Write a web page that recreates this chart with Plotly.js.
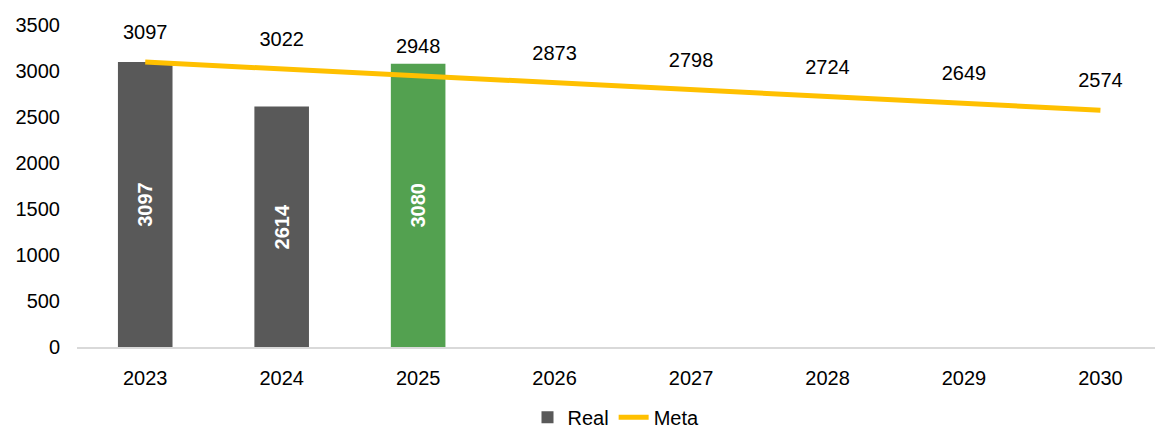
<!DOCTYPE html>
<html><head><meta charset="utf-8">
<script src="https://cdn.plot.ly/plotly-3.0.1.min.js"></script>
<style>html,body{margin:0;padding:0;background:#fff}</style>
</head><body>
<div id="chart" style="width:1155px;height:428px"></div>
<script>
const years = ['2023','2024','2025','2026','2027','2028','2029','2030'];
const realYears = ['2023','2024','2025'];
const realValues = [3097, 2614, 3080];
const realColors = ['#595959','#595959','#53A150'];
const metaValues = [3097, 3022, 2948, 2873, 2798, 2724, 2649, 2574];
const yTicks = [0,500,1000,1500,2000,2500,3000,3500];

const font = 'Liberation Sans, Arial, sans-serif';

const traces = [
  {
    type: 'bar', name: 'Real', x: realYears, y: realValues,
    marker: {color: realColors},
    text: realValues.map(String), textposition: 'inside', insidetextanchor: 'middle',
    textangle: -90, textfont: {family: font, size: 20, color: '#fff', weight: 'bold'},
    hoverinfo: 'skip'
  },
  {
    type: 'scatter', mode: 'lines', name: 'Meta', x: years, y: metaValues,
    line: {color: '#FFC000', width: 5}, hoverinfo: 'skip'
  },
  {
    type: 'scatter', mode: 'markers+text', showlegend: false, x: years, y: metaValues,
    marker: {size: 27, color: 'rgba(0,0,0,0)'},
    text: metaValues.map(String), textposition: 'top center',
    textfont: {family: font, size: 20, color: '#000'}, hoverinfo: 'skip', cliponaxis: false
  }
];

const layout = {
  width: 1155, height: 428,
  margin: {l: 77, r: 0, t: 25, b: 81},
  paper_bgcolor: '#fff', plot_bgcolor: '#fff',
  showlegend: true,
  legend: {orientation: 'h', x: 0.5, xanchor: 'center', yref: 'container', y: 0.025, yanchor: 'middle',
           font: {family: font, size: 20, color: '#000'}, traceorder: 'normal'},
  bargap: 0.6,
  xaxis: {type: 'category', categoryarray: years, range: [-0.5, 7.4],
          showline: true, linecolor: '#d9d9d9', linewidth: 2, ticks: '', ticklabelstandoff: 12,
          tickfont: {family: font, size: 20, color: '#000'}, showgrid: false, fixedrange: true},
  yaxis: {range: [0, 3500], tickvals: yTicks, ticktext: yTicks.map(String),
          showgrid: false, zeroline: false, showline: false, ticks: '', ticklabelstandoff: 16,
          tickfont: {family: font, size: 20, color: '#000'}, fixedrange: true},
  font: {family: font}
};

Plotly.newPlot('chart', traces, layout, {displayModeBar: false, staticPlot: true});
</script>
</body></html>
